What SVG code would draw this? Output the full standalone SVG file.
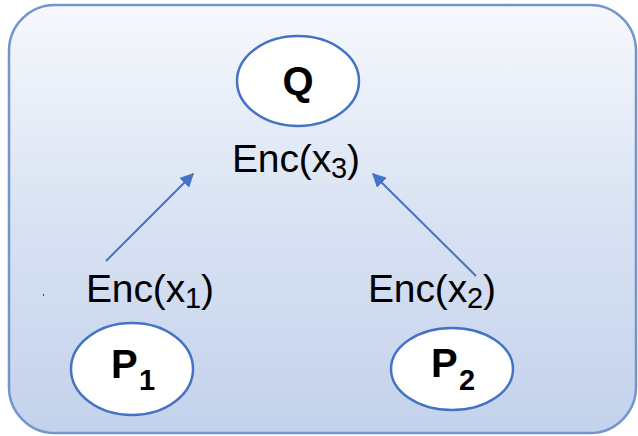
<svg xmlns="http://www.w3.org/2000/svg" width="638" height="436" viewBox="0 0 638 436">
<defs>
<linearGradient id="bg" x1="0" y1="0" x2="0" y2="1">
<stop offset="0" stop-color="#f6f8fc"/>
<stop offset="0.5" stop-color="#d9e2f3"/>
<stop offset="1" stop-color="#c3d2eb"/>
</linearGradient>
<marker id="ah" viewBox="0 0 10 10" refX="9" refY="5" markerWidth="7" markerHeight="7" markerUnits="strokeWidth" orient="auto">
<path d="M0,0 L10,5 L0,10 z" fill="#4472c4"/>
</marker>
</defs>
<style>
.node{fill:#ffffff;stroke:#4472c4;stroke-width:2.5}
.lbl{font-family:"Liberation Sans",Arial,sans-serif;font-size:39px;fill:#000}
.b{font-family:"Liberation Sans",Arial,sans-serif;font-weight:bold;font-size:40px;fill:#000}
.edge{stroke:#4472c4;stroke-width:2;fill:none;marker-end:url(#ah)}
</style>
<rect x="9" y="5" width="627" height="428" rx="46" ry="46" fill="url(#bg)" stroke="#7394cc" stroke-width="2.5"/>
<rect x="43" y="294" width="1" height="2" fill="#d00000"/>
<g id="Q">
<ellipse class="node" cx="298" cy="81" rx="61" ry="45"/>
<text class="b" x="298" y="95" text-anchor="middle">Q</text>
</g>
<g id="P1">
<ellipse class="node" cx="132" cy="369" rx="61" ry="46"/>
<text class="b" x="111" y="378">P<tspan font-size="29" x="139" y="390">1</tspan></text>
</g>
<g id="P2">
<ellipse class="node" cx="452" cy="369" rx="61" ry="41"/>
<text class="b" x="431" y="377">P<tspan font-size="29" x="459" y="390">2</tspan></text>
</g>
<g id="labels">
<text class="lbl" x="232" y="172" textLength="128" lengthAdjust="spacing">Enc(x<tspan font-size="29" dy="6">3</tspan><tspan dy="-6">)</tspan></text>
<text class="lbl" x="86" y="302" textLength="128" lengthAdjust="spacing">Enc(x<tspan font-size="29" dy="6">1</tspan><tspan dy="-6">)</tspan></text>
<text class="lbl" x="368" y="302" textLength="128" lengthAdjust="spacing">Enc(x<tspan font-size="29" dy="6">2</tspan><tspan dy="-6">)</tspan></text>
</g>
<g id="connectors">
<line class="edge" x1="106" y1="261" x2="193" y2="174"/>
<line class="edge" x1="476" y1="276" x2="373" y2="174"/>
</g>
</svg>
